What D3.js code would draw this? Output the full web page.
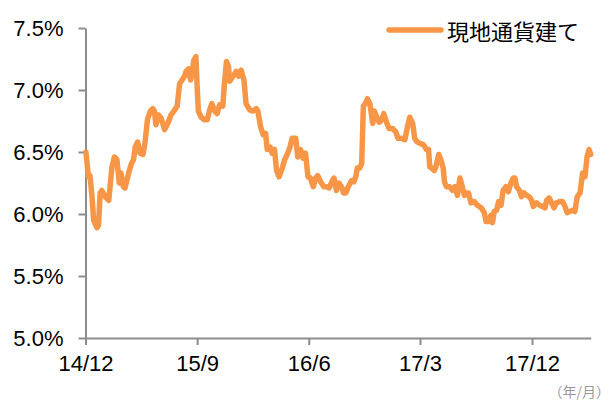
<!DOCTYPE html>
<html>
<head>
<meta charset="utf-8">
<script src="https://cdn.jsdelivr.net/npm/d3@7"></script>
<style>
  body { margin: 0; background: #fff; }
  svg { display: block; }
</style>
</head>
<body>
<div id="chart"></div>
<script>
const dates = [
  "2014-12-02","2014-12-04","2014-12-08","2014-12-12","2014-12-17","2014-12-21","2014-12-29",
  "2015-01-02","2015-01-06","2015-01-10","2015-01-18","2015-01-27","2015-02-04","2015-02-10",
  "2015-02-16","2015-02-22","2015-02-26","2015-03-04","2015-03-08","2015-03-17","2015-03-23",
  "2015-03-29","2015-04-02","2015-04-08","2015-04-14","2015-04-21","2015-04-26","2015-05-02",
  "2015-05-09","2015-05-15","2015-05-19","2015-05-23","2015-05-29","2015-06-05","2015-06-13",
  "2015-06-21","2015-06-29","2015-07-06","2015-07-14","2015-07-20","2015-07-26","2015-08-01",
  "2015-08-05","2015-08-11","2015-08-16","2015-08-19","2015-08-24","2015-08-29","2015-09-01",
  "2015-09-04","2015-09-11","2015-09-19","2015-09-26","2015-10-01","2015-10-07","2015-10-14",
  "2015-10-20","2015-10-26","2015-11-03","2015-11-07","2015-11-12","2015-11-17","2015-11-20",
  "2015-11-28","2015-12-06","2015-12-12","2015-12-18","2015-12-25","2015-12-30","2016-01-08",
  "2016-01-16","2016-01-24","2016-01-28","2016-02-04","2016-02-10","2016-02-16","2016-02-20",
  "2016-02-27","2016-03-03","2016-03-09","2016-03-14","2016-03-20","2016-03-28","2016-04-03",
  "2016-04-09","2016-04-16","2016-04-21","2016-04-30","2016-05-05","2016-05-12","2016-05-18",
  "2016-05-24","2016-05-30","2016-06-05","2016-06-12","2016-06-18","2016-06-23","2016-06-30",
  "2016-07-08","2016-07-15","2016-07-21","2016-07-29","2016-08-02","2016-08-08","2016-08-14",
  "2016-08-22","2016-08-25","2016-08-31","2016-09-06","2016-09-14","2016-09-20","2016-09-25",
  "2016-09-28","2016-10-04","2016-10-09","2016-10-13","2016-10-18","2016-10-23","2016-10-29",
  "2016-11-05","2016-11-09","2016-11-15","2016-11-21","2016-11-27","2016-12-02","2016-12-09",
  "2016-12-15","2016-12-24","2017-01-01","2017-01-06","2017-01-15","2017-01-23","2017-01-29",
  "2017-02-04","2017-02-11","2017-02-16","2017-02-22","2017-03-01","2017-03-09","2017-03-17",
  "2017-03-22","2017-03-25","2017-03-30","2017-04-05","2017-04-09","2017-04-16","2017-04-21",
  "2017-04-27","2017-04-30","2017-05-05","2017-05-13","2017-05-20","2017-05-26","2017-06-01",
  "2017-06-07","2017-06-12","2017-06-18","2017-06-23","2017-06-28","2017-07-04","2017-07-12",
  "2017-07-20","2017-07-29","2017-08-06","2017-08-10","2017-08-18","2017-08-22","2017-08-26",
  "2017-08-30","2017-09-05","2017-09-10","2017-09-16","2017-09-21","2017-09-28","2017-10-04",
  "2017-10-10","2017-10-16","2017-10-20","2017-10-24","2017-10-31","2017-11-05","2017-11-11",
  "2017-11-18","2017-11-24","2017-11-30","2017-12-04","2017-12-12","2017-12-20","2017-12-28",
  "2018-01-02","2018-01-06","2018-01-12","2018-01-18","2018-01-24","2018-01-30","2018-02-07",
  "2018-02-14","2018-02-20","2018-02-25","2018-03-04","2018-03-11","2018-03-16","2018-03-22",
  "2018-03-29","2018-04-04","2018-04-10","2018-04-15","2018-04-20","2018-04-24"
];

const yields = [
  6.50,6.44,6.30,6.31,6.14,5.95,5.89,
  5.91,6.17,6.19,6.14,6.11,6.38,6.46,
  6.44,6.25,6.33,6.22,6.21,6.33,6.40,
  6.44,6.54,6.58,6.49,6.48,6.57,6.76,
  6.83,6.85,6.83,6.72,6.80,6.77,6.68,
  6.73,6.80,6.83,6.87,7.05,7.08,7.11,
  7.15,7.17,7.08,7.13,7.24,7.27,7.03,
  6.83,6.78,6.76,6.76,6.83,6.89,6.83,
  6.81,6.88,6.87,7.05,7.23,7.19,7.07,
  7.11,7.15,7.11,7.16,7.08,6.89,6.84,
  6.83,6.85,6.83,6.70,6.64,6.65,6.52,
  6.54,6.49,6.52,6.35,6.30,6.37,6.44,
  6.48,6.54,6.61,6.61,6.46,6.52,6.45,
  6.49,6.30,6.29,6.22,6.29,6.31,6.26,
  6.22,6.22,6.21,6.27,6.29,6.19,6.25,
  6.21,6.17,6.17,6.22,6.27,6.26,6.31,
  6.37,6.37,6.41,6.87,6.89,6.93,6.89,
  6.73,6.83,6.78,6.74,6.76,6.81,6.74,
  6.69,6.69,6.66,6.61,6.61,6.60,6.70,
  6.78,6.73,6.61,6.58,6.57,6.56,6.52,
  6.52,6.38,6.37,6.35,6.38,6.48,6.44,
  6.37,6.26,6.22,6.22,6.19,6.22,6.15,
  6.29,6.23,6.15,6.17,6.17,6.09,6.10,
  6.07,6.05,6.01,5.94,5.94,5.99,5.93,
  6.02,6.03,6.10,6.07,6.19,6.22,6.18,
  6.25,6.29,6.29,6.22,6.19,6.14,6.17,
  6.15,6.14,6.11,6.06,6.09,6.07,6.06,
  6.05,6.11,6.13,6.09,6.05,6.09,6.10,
  6.10,6.06,6.01,6.02,6.03,6.02,6.14,
  6.17,6.33,6.30,6.46,6.52,6.48
];

const yTicks = [5.0, 5.5, 6.0, 6.5, 7.0, 7.5];
const xTickDates = ["2014-12-01", "2015-09-01", "2016-06-01", "2017-03-01", "2017-12-01"];
const xTickLabels = ["14/12", "15/9", "16/6", "17/3", "17/12"];
const seriesName = "現地通貨建て";
const unitLabel = "（年/月）";

const width = 615;
const height = 401;
const margin = { top: 28, right: 24.3, bottom: 63, left: 85.5 };
const lineColor = "#f79646";
const axisColor = "#8c8c8c";

const parseDate = d3.timeParse("%Y-%m-%d");
const data = dates.map((d, i) => ({ date: parseDate(d), value: yields[i] }));

const svg = d3.select("#chart")
              .append("svg")
              .attr("width", width)
              .attr("height", height);

const xScale = d3.scaleTime()
                 .domain([parseDate("2014-12-01"), parseDate(dates[dates.length - 1])])
                 .range([margin.left, width - margin.right]);

const yScale = d3.scaleLinear()
                 .domain([5.0, 7.5])
                 .range([height - margin.bottom, margin.top]);

// y axis
const yAxis = svg.append("g")
                 .attr("transform", `translate(${margin.left}, 0)`)
                 .call(d3.axisLeft(yScale)
                         .tickValues(yTicks)
                         .tickFormat(d => d3.format(".1f")(d) + "%")
                         .tickSizeInner(7)
                         .tickSizeOuter(0)
                         .tickPadding(15));

// x axis
const xAxis = svg.append("g")
                 .attr("transform", `translate(0, ${height - margin.bottom})`)
                 .call(d3.axisBottom(xScale)
                         .tickValues(xTickDates.map(parseDate))
                         .tickFormat((d, i) => xTickLabels[i])
                         .tickSizeInner(7)
                         .tickSizeOuter(0)
                         .tickPadding(10));

[yAxis, xAxis].forEach(ax => {
  ax.select(".domain").attr("stroke", axisColor).attr("stroke-width", 2);
  ax.selectAll(".tick line").attr("stroke", axisColor).attr("stroke-width", 2);
  ax.selectAll(".tick text")
    .attr("fill", "#000")
    .style("font-family", "'Liberation Sans', Arial, sans-serif")
    .style("font-size", "22px");
});

// series line
const line = d3.line()
               .x(d => xScale(d.date))
               .y(d => yScale(d.value));

svg.append("path")
   .datum(data)
   .attr("d", line)
   .attr("fill", "none")
   .attr("stroke", lineColor)
   .attr("stroke-width", 5.5)
   .attr("stroke-linejoin", "round")
   .attr("stroke-linecap", "round");

// legend
const legend = svg.append("g")
                  .attr("transform", `translate(389, 30)`);

legend.append("line")
      .attr("x1", 0)
      .attr("x2", 52)
      .attr("y1", 0)
      .attr("y2", 0)
      .attr("stroke", lineColor)
      .attr("stroke-width", 5.5)
      .attr("stroke-linecap", "round");

legend.append("text")
      .attr("x", 58)
      .attr("y", 0)
      .attr("dominant-baseline", "central")
      .attr("fill", "#000")
      .style("font-family", "'Noto Sans CJK JP', sans-serif")
      .style("font-size", "22px")
      .text(seriesName);

// unit label
svg.append("text")
   .attr("x", 610)
   .attr("y", 391)
   .attr("text-anchor", "end")
   .attr("dominant-baseline", "central")
   .attr("fill", "#9a9a9a")
   .style("font-family", "'Noto Sans CJK JP', sans-serif")
   .style("font-size", "14px")
   .text(unitLabel);
</script>
</body>
</html>
